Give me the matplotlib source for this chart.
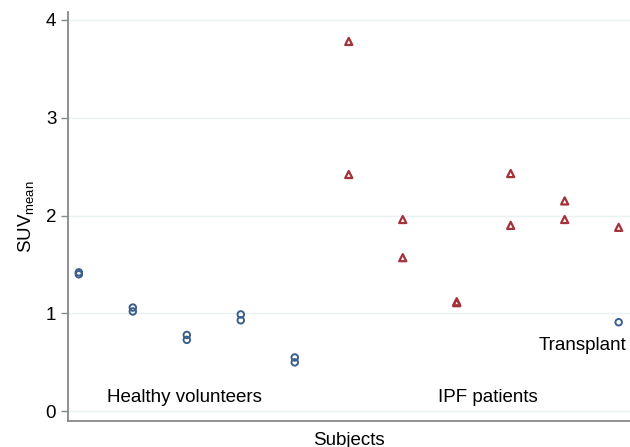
import numpy as np
import matplotlib.pyplot as plt

plt.rcParams['font.family'] = ['Liberation Sans', 'DejaVu Sans']

# healthy volunteers (subjects 1-5, two scans each) + transplant (subject 11)
healthy_x = [1, 1, 2, 2, 3, 3, 4, 4, 5, 5, 11]
healthy_y = [1.42, 1.40, 1.06, 1.02, 0.78, 0.73, 0.99, 0.93, 0.55, 0.50, 0.91]

# IPF patients (subjects 6-11)
ipf_x = [6, 6, 7, 7, 8, 8, 9, 9, 10, 10, 11]
ipf_y = [3.78, 2.42, 1.96, 1.57, 1.12, 1.11, 2.43, 1.90, 2.15, 1.96, 1.88]

yticks = [0, 1, 2, 3, 4]

fig = plt.figure(figsize=(6.3, 4.47), dpi=100)
ax = fig.add_axes([0.108, 0.058, 0.892, 0.915])

for yy in yticks:
    ax.axhline(yy, color='#eaf3f3', lw=1.0, zorder=0)

ax.scatter(healthy_x, healthy_y, marker='o', s=22, facecolors='none',
           edgecolors='#3b5f8c', linewidths=1.4, zorder=3)
ax.scatter(ipf_x, ipf_y, marker='^', s=26, facecolors='none',
           edgecolors='#a3333b', linewidths=1.6, zorder=3)

bb = dict(facecolor='white', edgecolor='none', pad=1)
ax.text(1.52, 0.14, 'Healthy volunteers', fontsize=13.5, va='center', ha='left', bbox=bb)
ax.text(7.65, 0.14, 'IPF patients', fontsize=13.5, va='center', ha='left', bbox=bb)
ax.text(11.15, 0.675, 'Transplant', fontsize=13.5, va='center', ha='right')

ax.set_xlim(0.8, 11.21)
ax.set_ylim(-0.1, 4.08)
ax.set_xticks([])
ax.set_yticks(yticks)
ax.tick_params(axis='y', labelsize=13.5, color='#888888', length=5, width=1)
for s in ['top', 'right']:
    ax.spines[s].set_visible(False)
for s in ['left', 'bottom']:
    ax.spines[s].set_color('#888888')
    ax.spines[s].set_linewidth(1.3)

ax.set_ylabel('SUV$_{\\mathregular{mean}}$', fontsize=13.5, labelpad=6)
ax.set_xlabel('Subjects', fontsize=13.5, labelpad=8)

plt.savefig('out.png', dpi=100)
